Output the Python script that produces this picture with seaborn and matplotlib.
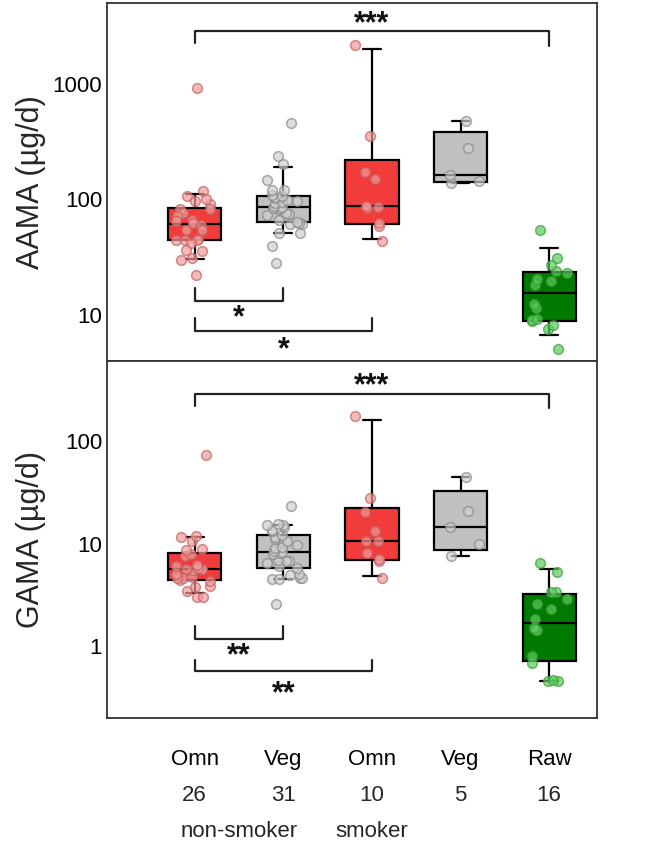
import numpy as np
import matplotlib
matplotlib.use("Agg")
import matplotlib.pyplot as plt
import matplotlib.ticker as mticker
import matplotlib.transforms as mtransforms
import pandas as pd
import seaborn as sns

# groups (left to right)
group_ids = ["omn_ns", "veg_ns", "omn_s", "veg_s", "raw"]
group_names = ["Omn", "Veg", "Omn", "Veg", "Raw"]
group_counts = ["26", "31", "10", "5", "16"]

# AAMA (µg/d)
aama_omn_ns = [923, 118, 108, 96.6, 90.6, 81.9, 81.9, 76.6, 72, 67, 64.7, 63, 60,
               54.1, 54.1, 45.5, 44.9, 44.9, 44.9, 42, 36.2, 35.5, 31.1, 30.1, 22.3, 100]
aama_veg_ns = [28.2, 39.3, 51.3, 51.3, 60.7, 60.7, 62, 64, 67, 73, 75, 77, 82, 84, 85, 86, 88,
               93, 95, 97, 99, 103, 105, 107, 110, 120, 120, 146, 201, 238, 458]
aama_omn_s = [44, 58.6, 62.7, 84.7, 86.4, 88, 151, 171, 356, 2180]
aama_veg_s = [140, 143, 162, 281, 480]
aama_raw = [5.04, 7.5, 8.2, 8.9, 9.1, 9.2, 11.5, 12.5, 18.2, 19.5, 20.5, 23, 24, 27.2, 31.1, 54]

# GAMA (µg/d)
gama_omn_ns = [3.02, 3.05, 3.44, 3.8, 3.85, 4.3, 4.4, 4.6, 4.65, 4.7, 5.1, 5.5, 5.6, 5.6,
               5.7, 5.75, 6.0, 6.2, 7.5, 8.0, 8.7, 8.8, 10.7, 11.6, 11.8, 73]
gama_veg_ns = [2.56, 4.5, 4.55, 4.6, 4.65, 4.9, 5.1, 5.8, 6.0, 6.5, 6.7, 6.8, 6.9, 7.9, 8.1,
               8.3, 8.4, 9.1, 9.3, 9.6, 10.5, 11, 11.5, 12, 13.2, 13.6, 14.6, 15, 15.2, 15.5, 23]
gama_omn_s = [4.57, 6.73, 7.0, 8.13, 10.5, 10.5, 13.2, 20.1, 27.8, 175]
gama_veg_s = [7.5, 10, 14.5, 20.6, 44.4]
gama_raw = [0.46, 0.46, 0.47, 0.684, 0.805, 1.44, 1.44, 1.5, 1.86, 2.3, 2.56, 2.86,
            3.38, 3.38, 5.26, 6.49]

aama = [aama_omn_ns, aama_veg_ns, aama_omn_s, aama_veg_s, aama_raw]
gama = [gama_omn_ns, gama_veg_ns, gama_omn_s, gama_veg_s, gama_raw]

box_colors = ["#f23c3c", "#c0c0c0", "#f23c3c", "#c0c0c0", "#007a00"]
dot_colors = ["#f49a9a", "#cfcfcf", "#f49a9a", "#cfcfcf", "#5ccc5c"]
dot_edges = ["#c06060", "#888888", "#c06060", "#888888", "#3c9c3c"]

sns.set_style("white")
plt.rcParams["font.family"] = ["Liberation Sans", "DejaVu Sans"]

fig = plt.figure(figsize=(6.45, 8.52), dpi=100)
ax1 = fig.add_axes([107 / 645, 1 - 361 / 852, 490 / 645, 358 / 852])
ax2 = fig.add_axes([107 / 645, 1 - 718 / 852, 490 / 645, 357 / 852])


def box_stats(values):
    q = np.percentile(values, [10, 25, 50, 75, 90], method="weibull")
    return dict(whislo=q[0], q1=q[1], med=q[2], q3=q[3], whishi=q[4], fliers=[])


def draw_panel(ax, data, ylim, yticks):
    ax.set_yscale("log")
    line = dict(color="black", linewidth=1.6)
    bp = ax.bxp([box_stats(v) for v in data], positions=range(5), widths=0.6,
                capwidths=0.2, patch_artist=True, showfliers=False,
                boxprops=dict(edgecolor="black", linewidth=1.6),
                medianprops=line, whiskerprops=line, capprops=line,
                manage_ticks=False)
    for patch, c in zip(bp["boxes"], box_colors):
        patch.set_facecolor(c)

    df = pd.DataFrame({
        "group": np.repeat(group_ids, [len(v) for v in data]),
        "value": np.concatenate(data),
    })
    np.random.seed(3)
    for gid, fc, ec in zip(group_ids, dot_colors, dot_edges):
        sub = df[df["group"] == gid]
        sns.stripplot(data=sub, x="group", y="value", order=group_ids, ax=ax,
                      jitter=0.22, size=7, color=fc, edgecolor=ec, linewidth=1.1,
                      alpha=0.7, zorder=5)

    ax.set_xlim(-0.99, 4.54)
    ax.set_ylim(*ylim)
    ax.yaxis.set_major_locator(mticker.FixedLocator(yticks))
    ax.yaxis.set_major_formatter(mticker.FuncFormatter(lambda v, p: f"{v:g}"))
    ax.yaxis.set_minor_locator(mticker.LogLocator(base=10, subs=np.arange(2, 10)))
    ax.yaxis.set_minor_formatter(mticker.NullFormatter())
    ax.set_xticks(range(5))
    ax.tick_params(axis="both", which="both", direction="in", colors="#333333",
                   labelcolor="black", labelsize=16, width=1.2)
    ax.tick_params(axis="y", which="major", length=6)
    ax.tick_params(axis="y", which="minor", length=3.5)
    ax.tick_params(axis="x", length=5, pad=22)
    ax.set_xlabel("")
    for s in ax.spines.values():
        s.set_color("#333333")
        s.set_linewidth(1.3)


def bracket(ax, x0, x1, y, y_leg0, y_leg1, text, ty, tx=None):
    ax.plot([x0, x0, x1, x1], [y_leg0, y, y, y_leg1], color="#222222", lw=1.6,
            zorder=6, clip_on=False)
    if tx is None:
        tx = (x0 + x1) / 2
    ax.text(tx, ty, text, ha="center", va="center", fontsize=22,
            fontweight="bold", color="#111111")


draw_panel(ax1, aama, (4.0, 5000), [10, 100, 1000])
draw_panel(ax2, gama, (0.2, 600), [1, 10, 100])

ax1.set_xticklabels([])
ax2.set_xticklabels(group_names)
ax1.set_ylabel("AAMA (µg/d)", fontsize=22)
ax2.set_ylabel("GAMA (µg/d)", fontsize=22)
ax1.yaxis.set_label_coords(-0.125, 0.5)
ax2.yaxis.set_label_coords(-0.125, 0.5)

# significance brackets
bracket(ax1, 0, 4, 2890, 2275, 2140, "***", 3300)
bracket(ax1, 0, 1, 13.2, 17.2, 17.2, "*", 9.3, tx=0.5)
bracket(ax1, 0, 2, 7.26, 9.42, 9.42, "*", 4.95, tx=1.0)
bracket(ax2, 0, 4, 284, 219, 209, "***", 340)
bracket(ax2, 0, 1, 1.17, 1.56, 1.56, "**", 0.80, tx=0.5)
bracket(ax2, 0, 2, 0.568, 0.731, 0.731, "**", 0.34, tx=1.0)

trans = mtransforms.blended_transform_factory(ax2.transData, ax2.transAxes)
for i, n in enumerate(group_counts):
    ax2.text(i, -0.216, n, transform=trans, ha="center", va="center", fontsize=16)
ax2.text(0.5, -0.319, "non-smoker", transform=trans, ha="center", va="center", fontsize=16)
ax2.text(2.0, -0.319, "smoker", transform=trans, ha="center", va="center", fontsize=16)

plt.savefig("out.png", dpi=100)
